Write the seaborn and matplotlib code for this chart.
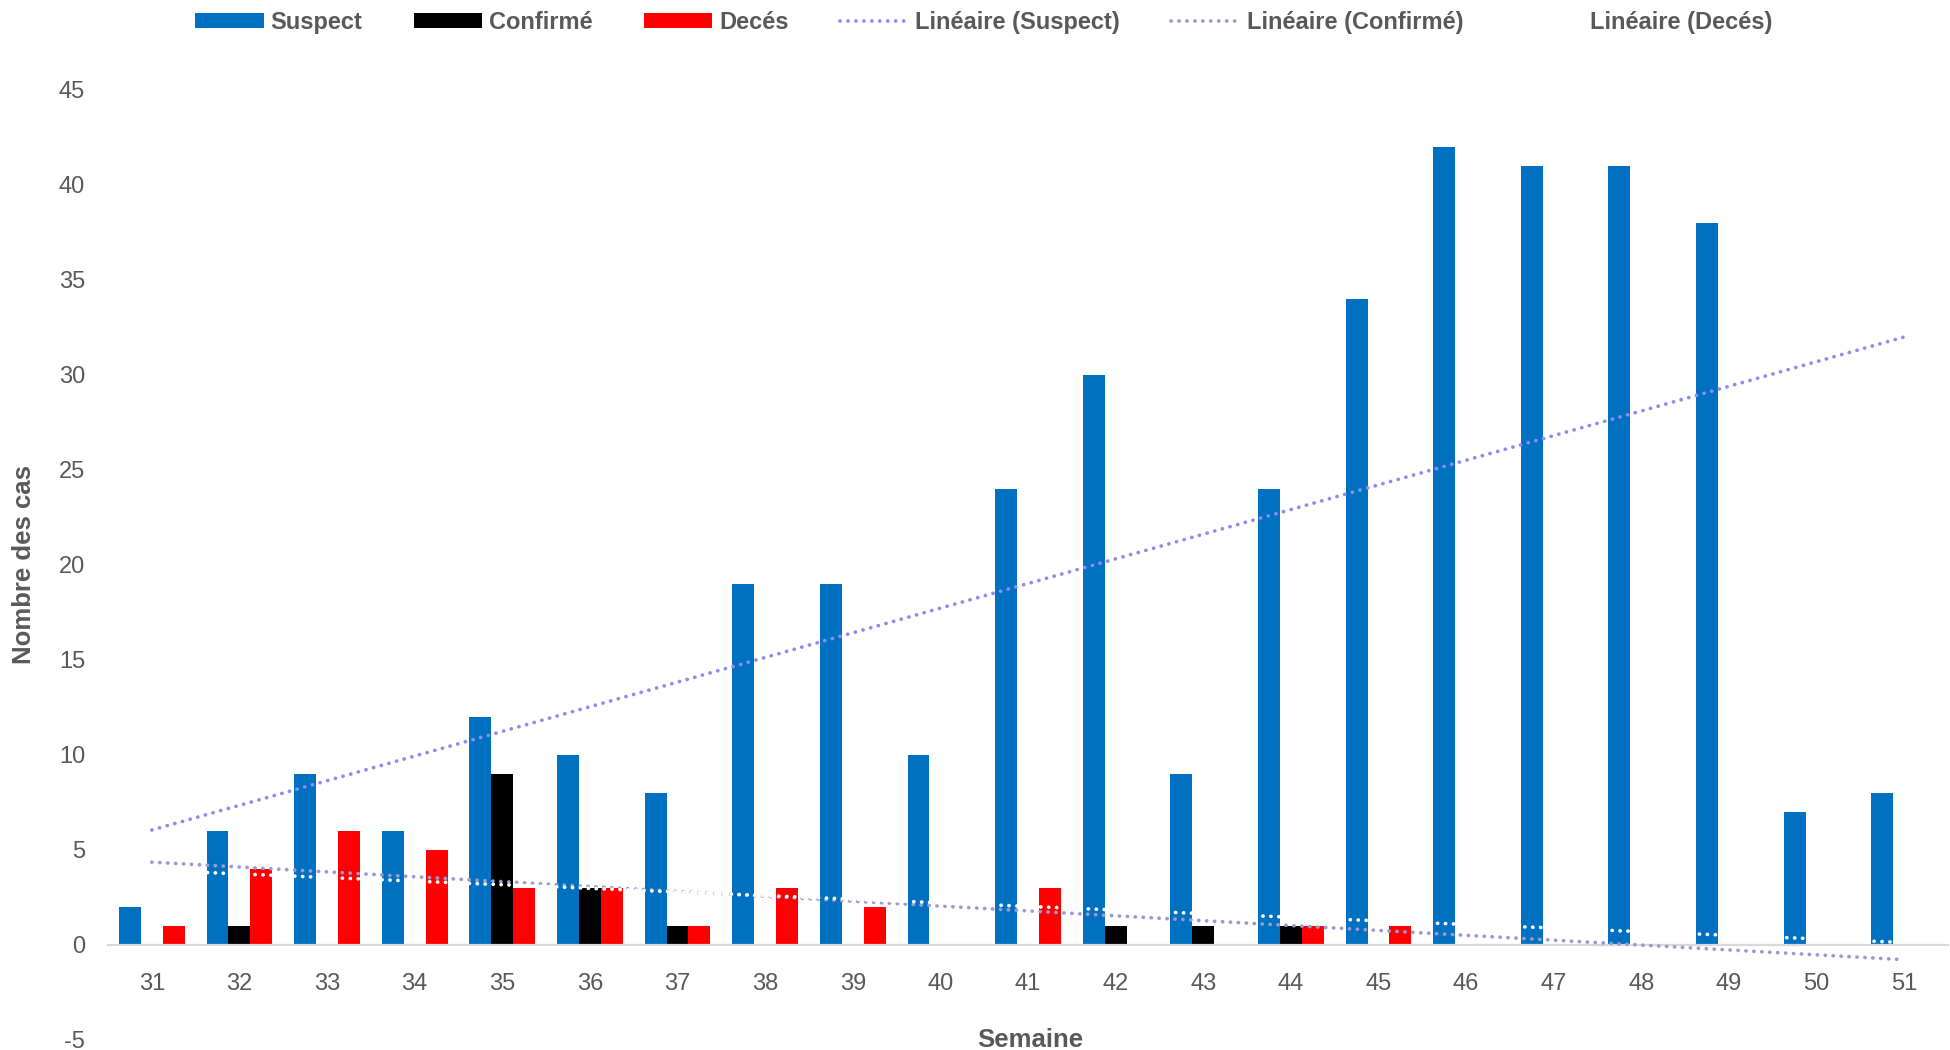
import numpy as np
import pandas as pd
import matplotlib
matplotlib.use("Agg")
import matplotlib.pyplot as plt
import seaborn as sns
from matplotlib.patches import Patch
from matplotlib.lines import Line2D
from matplotlib.font_manager import FontProperties

# ---------------- data ----------------
weeks = list(range(31, 52))
suspect = [2, 6, 9, 6, 12, 10, 8, 19, 19, 10, 24, 30, 9, 24, 34, 42, 41, 41, 38, 7, 8]
confirme = [0, 1, 0, 0, 9, 3, 1, 0, 0, 0, 0, 1, 1, 1, 0, 0, 0, 0, 0, 0, 0]
deces = [1, 4, 6, 5, 3, 3, 1, 3, 2, 0, 3, 0, 0, 1, 1, 0, 0, 0, 0, 0, 0]
series_names = ["Suspect", "Confirmé", "Decés"]
trend_names = ["Linéaire (Suspect)", "Linéaire (Confirmé)", "Linéaire (Decés)"]
yticks = list(range(-5, 50, 5))

# ---------------- style ----------------
sns.set_style("white")
plt.rcParams["font.family"] = ["Liberation Sans", "DejaVu Sans"]
TXT = "#595959"
bar_colors = {"Suspect": "#0070C0", "Confirmé": "#000000", "Decés": "#FF0000"}
trend_colors = ["#8C8CF2", "#9A9AD0", "#FFFFFF"]
DOT = (0, (0.05, 2.1))

df = pd.DataFrame({
    "Semaine": weeks * 3,
    "Série": [series_names[0]] * len(weeks) + [series_names[1]] * len(weeks) + [series_names[2]] * len(weeks),
    "Cas": suspect + confirme + deces,
})

fig = plt.figure(figsize=(19.5, 10.5), dpi=100)
ax = fig.add_axes([108 / 1950, 10.5 / 1050, 1840 / 1950, 950 / 1050])

sns.barplot(data=df, x="Semaine", y="Cas", hue="Série", hue_order=series_names,
            palette=bar_colors, width=0.75, saturation=1, errorbar=None,
            linewidth=0, legend=False, ax=ax)

# Excel-style linear trendlines (empty cells are skipped)
pos = np.arange(len(weeks))
for vals, col in zip([suspect, confirme, deces], trend_colors):
    v = np.asarray(vals, dtype=float)
    m = v > 0
    slope, inter = np.polyfit(pos[m], v[m], 1)
    ax.plot(pos, inter + slope * pos, color=col, lw=2.66, linestyle=DOT,
            dash_capstyle="round", zorder=3)

ax.set_xlim(-0.5, len(weeks) - 0.5)
ax.set_ylim(-5, 45)
ax.set_yticks(yticks)
ax.set_yticklabels([str(t) for t in yticks])

for s in ["top", "right", "left"]:
    ax.spines[s].set_visible(False)
ax.spines["bottom"].set_position(("data", 0))
ax.spines["bottom"].set_color("#D9D9D9")
ax.spines["bottom"].set_linewidth(1.6)

ax.tick_params(axis="x", length=0, pad=20.5, labelsize=17, labelcolor=TXT)
ax.tick_params(axis="y", length=0, pad=16.5, labelsize=17, labelcolor=TXT)
ax.grid(False)

ax.set_xlabel("Semaine", fontsize=18.5, fontweight="bold", color=TXT)
ax.xaxis.set_label_coords((1030 - 108) / 1840, -0.0005)
ax.xaxis.label.set_verticalalignment("center")
ax.set_ylabel("Nombre des cas", fontsize=18.5, fontweight="bold", color=TXT)
ax.yaxis.set_label_coords((24.5 - 108) / 1840, 0.5)
ax.yaxis.label.set_verticalalignment("center")

handles = [Patch(facecolor=bar_colors[n], edgecolor="none", label=n) for n in series_names]
handles += [Line2D([], [], color=c, lw=2.66, linestyle=DOT, dash_capstyle="round", label=l)
            for c, l in zip(trend_colors, trend_names)]
fig.legend(handles=handles, loc="center", bbox_to_anchor=(0.5044, 0.9786), ncol=6,
           frameon=False, prop=FontProperties(family=["Liberation Sans", "DejaVu Sans"],
                                              weight="bold", size=17),
           labelcolor=TXT, handlelength=2.9, handleheight=0.6, handletextpad=0.3,
           columnspacing=2.16)

fig.savefig("out.png", dpi=100, facecolor="white")
